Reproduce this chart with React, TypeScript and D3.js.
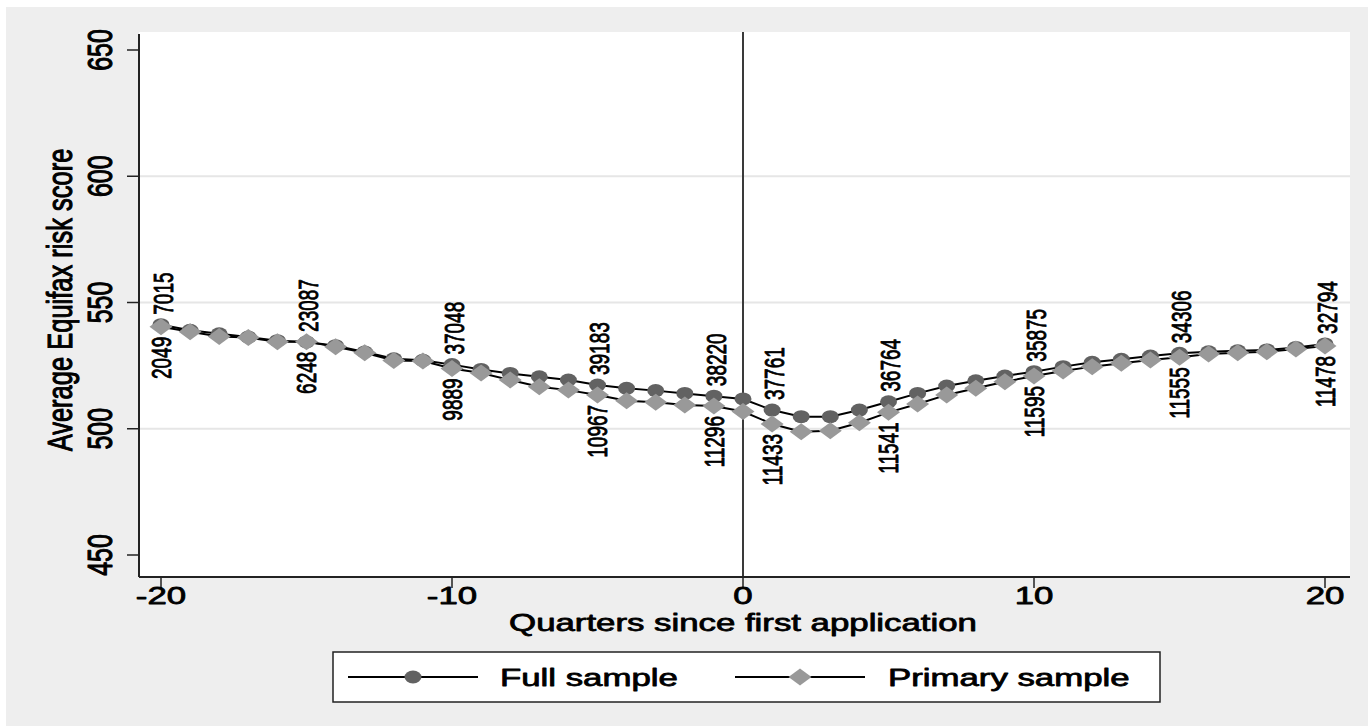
import React from "react";
import * as d3 from "d3";

const quarters: number[] = d3.range(-20, 21);
const fullSample: number[] = [
  541.2, 539.0, 537.6, 536.3, 534.9, 534.4, 532.9, 530.4, 527.7, 527.1,
  525.4, 523.5, 521.9, 520.6, 519.3, 517.3, 516.0, 515.1, 514.0, 512.9,
  511.8, 507.4, 504.8, 504.8, 507.4, 510.7, 514.0, 516.9, 519.0, 520.9,
  522.6, 524.6, 526.3, 527.5, 528.8, 529.9, 530.5, 530.9, 531.2, 532.2, 533.6,
];
const primarySample: number[] = [
  540.4, 538.4, 536.5, 536.1, 534.5, 534.5, 532.5, 530.1, 527.0, 526.8,
  523.9, 522.1, 519.3, 516.6, 515.3, 513.4, 511.1, 510.5, 509.4, 509.0,
  506.8, 501.9, 498.8, 499.2, 502.4, 506.5, 509.8, 513.4, 516.0, 518.6,
  520.9, 522.9, 524.6, 525.9, 527.2, 528.3, 529.6, 530.1, 530.5, 531.6, 532.8,
];
const labelQuarters: number[] = [-20, -15, -10, -5, -1, 1, 5, 10, 15, 20];
const fullCounts: string[] = ["7015", "23087", "37048", "39183", "38220", "37761", "36764", "35875", "34306", "32794"];
const primaryCounts: string[] = ["2049", "6248", "9889", "10967", "11296", "11433", "11541", "11595", "11555", "11478"];
const yTicks: number[] = [450, 500, 550, 600, 650];
const yGrid: number[] = [500, 550, 600];
const xTicks: number[] = [-20, -10, 0, 10, 20];
const seriesNames: string[] = ["Full sample", "Primary sample"];

const FONT = "'Liberation Sans', Arial, Helvetica, sans-serif";
const K = 1.45; // horizontal stretch of the text

const x = d3.scaleLinear().domain([-20, 20]).range([161, 1325]);
const y = d3.scaleLinear().domain([450, 650]).range([555, 50]);

const PLOT = { left: 139, right: 1350, top: 32, bottom: 577 };
const FULL_COLOR = "#626262";
const PRIM_COLOR = "#999999";

function SText(props: {
  x: number; y: number; size: number; rotate?: boolean; anchor?: string; dy?: string; weight?: number; k?: number; children: React.ReactNode;
}) {
  const { x: tx, y: ty, size, rotate, anchor, dy, weight, k, children } = props;
  return (
    <text
      transform={`translate(${tx},${ty}) scale(${k ?? K},1)${rotate ? " rotate(-90)" : ""}`}
      fontFamily={FONT}
      fontSize={size}
      textAnchor={anchor || "start"}
      dy={dy}
      fill="#000"
      stroke="#000"
      strokeWidth={weight ?? 0.8}
      strokeLinejoin="round"
    >
      {children}
    </text>
  );
}

const Circle = ({ cx, cy }: { cx: number; cy: number }) => (
  <ellipse cx={cx} cy={cy} rx={8.5} ry={6.5} fill={FULL_COLOR} />
);
const Diamond = ({ cx, cy }: { cx: number; cy: number }) => (
  <path transform={`translate(${cx},${cy})`} d="M0,-8.5L11.5,0L0,8.5L-11.5,0Z" fill={PRIM_COLOR} />
);

export default function App() {
  const line = d3
    .line<number>()
    .x((_, i) => x(quarters[i]))
    .y((d) => y(d));

  return (
    <svg width={1368} height={728} style={{ position: "absolute", left: 0, top: 0 }}>
      <rect x={0} y={0} width={1368} height={728} fill="#ffffff" />
      <rect x={6} y={7} width={1362} height={719} fill="#eeeeee" />
      <rect x={PLOT.left} y={PLOT.top} width={PLOT.right - PLOT.left} height={PLOT.bottom - PLOT.top} fill="#ffffff" />

      {yGrid.map((v) => (
        <line key={v} x1={PLOT.left} x2={PLOT.right} y1={y(v)} y2={y(v)} stroke="#e6e6e6" strokeWidth={2} />
      ))}

      {/* reference line at 0 */}
      <line x1={x(0)} x2={x(0)} y1={PLOT.top} y2={PLOT.bottom} stroke="#3a3a3a" strokeWidth={2} />

      {/* axes */}
      <line x1={PLOT.left} x2={PLOT.left} y1={PLOT.top + 2} y2={PLOT.bottom} stroke="#222" strokeWidth={2} />
      <line x1={PLOT.left} x2={PLOT.right} y1={PLOT.bottom} y2={PLOT.bottom} stroke="#222" strokeWidth={2} />
      {yTicks.map((v) => (
        <g key={v}>
          <line x1={PLOT.left - 12} x2={PLOT.left} y1={y(v)} y2={y(v)} stroke="#222" strokeWidth={1.5} />
          <SText x={100} y={y(v)} size={25} k={1.4} rotate anchor="middle" dy="0.35em">{v}</SText>
        </g>
      ))}
      {xTicks.map((v) => (
        <g key={v}>
          <line x1={x(v)} x2={x(v)} y1={PLOT.bottom} y2={PLOT.bottom + 11} stroke="#222" strokeWidth={1.5} />
          <SText x={x(v)} y={604} size={24} anchor="middle">{v}</SText>
        </g>
      ))}
      <SText x={60} y={300} size={25.5} k={1.38} rotate anchor="middle" dy="0.35em">Average Equifax risk score</SText>
      <SText x={743} y={631} size={24} anchor="middle">Quarters since first application</SText>

      {/* Full sample */}
      <path d={line(fullSample) || ""} fill="none" stroke="#000" strokeWidth={2} />
      {fullSample.map((v, i) => (
        <Circle key={i} cx={x(quarters[i])} cy={y(v)} />
      ))}
      {/* Primary sample */}
      <path d={line(primarySample) || ""} fill="none" stroke="#000" strokeWidth={2} />
      {primarySample.map((v, i) => (
        <Diamond key={i} cx={x(quarters[i])} cy={y(v)} />
      ))}

      {/* marker labels */}
      {labelQuarters.map((q, j) => {
        const i = quarters.indexOf(q);
        return (
          <g key={q}>
            <SText x={x(q) + 2} y={y(fullSample[i]) - 10} size={19} k={1.5} rotate anchor="start" dy="0.35em" weight={0.6}>
              {fullCounts[j]}
            </SText>
            <SText x={x(q)} y={y(primarySample[i]) + 10} size={19} k={1.5} rotate anchor="end" dy="0.35em" weight={0.6}>
              {primaryCounts[j]}
            </SText>
          </g>
        );
      })}

      {/* legend */}
      <rect x={333} y={652} width={827} height={50} fill="#ffffff" stroke="#222" strokeWidth={1.5} />
      <line x1={348} x2={478} y1={677} y2={677} stroke="#000" strokeWidth={2} />
      <Circle cx={413} cy={677} />
      <SText x={500} y={686} size={24}>{seriesNames[0]}</SText>
      <line x1={735} x2={865} y1={677} y2={677} stroke="#000" strokeWidth={2} />
      <Diamond cx={800} cy={677} />
      <SText x={888} y={686} size={24}>{seriesNames[1]}</SText>
    </svg>
  );
}
